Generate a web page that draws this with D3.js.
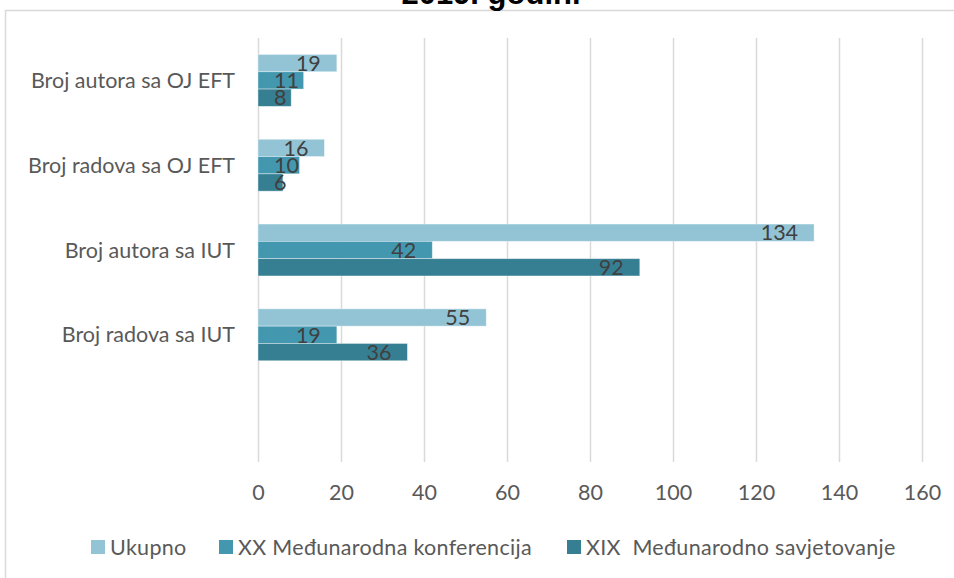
<!DOCTYPE html>
<html>
<head>
<meta charset="utf-8">
<script src="https://cdn.jsdelivr.net/npm/d3@7"></script>
<style>
  body { margin: 0; background: #fff; }
  text { font-family: Lato, "Open Sans", sans-serif; }
</style>
</head>
<body>
<div id="chart"></div>
<script>
// data, top to bottom as drawn (last category is empty in the original)
const categories = ["Broj autora sa OJ EFT", "Broj radova sa OJ EFT", "Broj autora sa IUT", "Broj radova sa IUT", ""]
const seriesNames = ["Ukupno", "XX Međunarodna konferencija", "XIX  Međunarodno savjetovanje"]
const ukupno = [19, 16, 134, 55]
const xxKonf = [11, 10, 42, 19]
const xixSavj = [8, 6, 92, 36]
const xTicks = [0, 20, 40, 60, 80, 100, 120, 140, 160]
const colors = ["#93c4d6", "#4398af", "#367f93"]

const width = 954, height = 578
const plot = { left: 258, right: 922, top: 38, bottom: 462 }
const fontSize = "21.5px"

const svg = d3.select("#chart").append("svg")
    .attr("width", width)
    .attr("height", height)

// chart area border
svg.append("rect")
    .attr("x", 5.5).attr("y", 10.5)
    .attr("width", 1200).attr("height", 1200)
    .attr("fill", "none")
    .attr("stroke", "#d9d9d9")
    .attr("stroke-width", 1.5)

// title (cut off at the top in the original)
svg.append("text")
    .attr("x", 491).attr("y", 4)
    .attr("text-anchor", "middle")
    .style("font-family", "'Liberation Sans', Arial, sans-serif")
    .style("font-weight", "bold")
    .style("font-size", "31px")
    .attr("fill", "#000")
    .text("2019. godini")

const x = d3.scaleLinear().domain([0, 160]).range([plot.left, plot.right])
const y = d3.scaleBand().domain(categories).range([plot.top, plot.bottom])
const ySub = d3.scaleBand().domain(seriesNames).range([0, y.bandwidth()]).paddingOuter(0.95)

// x axis with gridlines
const xAxis = svg.append("g")
    .attr("transform", "translate(0," + plot.bottom + ")")
    .call(d3.axisBottom(x).tickValues(xTicks).tickSize(-(plot.bottom - plot.top)).tickPadding(23))
xAxis.select(".domain").remove()
xAxis.selectAll(".tick line").attr("stroke", "#d9d9d9").attr("stroke-width", 1.5)
xAxis.selectAll(".tick text")
    .attr("fill", "#595959")
    .style("font-family", "Lato, sans-serif")
    .style("font-size", fontSize)

// category labels
svg.selectAll(".cat")
    .data(categories)
    .enter().append("text")
    .attr("class", "cat")
    .attr("x", 235)
    .attr("y", d => y(d) + y.bandwidth() / 2)
    .attr("dy", "0.35em")
    .attr("text-anchor", "end")
    .attr("fill", "#595959")
    .style("font-size", fontSize)
    .text(d => d)

const seriesValues = [ukupno, xxKonf, xixSavj]
const barData = []
seriesValues.forEach((vals, si) => {
    vals.forEach((v, ci) => barData.push({ cat: categories[ci], series: seriesNames[si], si: si, value: v }))
})

svg.selectAll(".bar")
    .data(barData)
    .enter().append("rect")
    .attr("class", "bar")
    .attr("x", x(0))
    .attr("y", d => y(d.cat) + ySub(d.series))
    .attr("width", d => x(d.value) - x(0))
    .attr("height", ySub.bandwidth())
    .attr("fill", d => colors[d.si])
    .attr("stroke", "#ffffff")
    .attr("stroke-opacity", 0.5)
    .attr("stroke-width", 0.75)

// data labels: inside end, pushed right when the bar is too short
svg.selectAll(".lbl")
    .data(barData)
    .enter().append("text")
    .attr("class", "lbl")
    .attr("y", d => y(d.cat) + ySub(d.series) + ySub.bandwidth() / 2)
    .attr("dy", "0.36em")
    .attr("fill", "#404040")
    .style("font-size", fontSize)
    .text(d => d.value)
    .each(function (d) {
        const w = this.getComputedTextLength()
        d3.select(this).attr("x", Math.max(x(d.value) - 16 - w, x(0) + 16))
    })

// legend
const legendX = [91, 219, 567]
const legend = svg.selectAll(".leg")
    .data(seriesNames)
    .enter().append("g")
    .attr("class", "leg")
    .attr("transform", (d, i) => "translate(" + legendX[i] + ",540)")
legend.append("rect")
    .attr("width", 14).attr("height", 14)
    .attr("fill", (d, i) => colors[i])
legend.append("text")
    .attr("x", 19).attr("y", 7)
    .attr("dy", "0.36em")
    .attr("fill", "#595959")
    .style("font-size", fontSize)
    .style("letter-spacing", "0.3px")
    .style("white-space", "pre")
    .text(d => d)
</script>
</body>
</html>
